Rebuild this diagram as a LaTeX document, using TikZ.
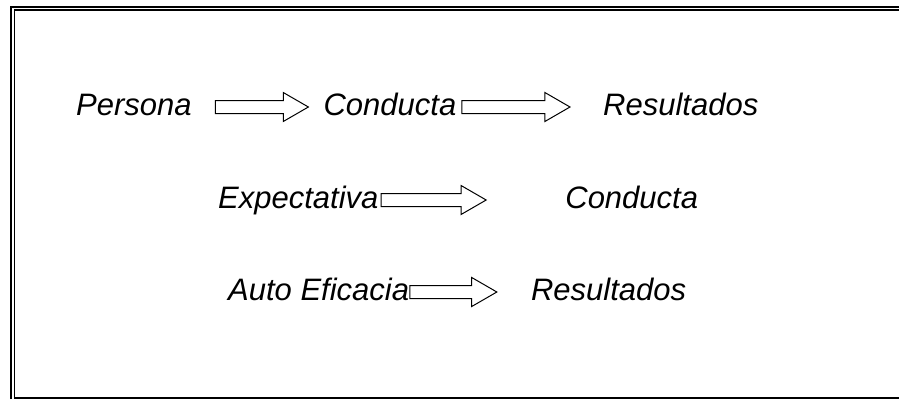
\documentclass[tikz,border=0pt]{standalone}
\usepackage{fontspec}
\setmainfont{Liberation Sans}
\usetikzlibrary{positioning,shapes.arrows}
\tikzset{
    %Define standard text and arrow
    palabra/.style={
      inner sep=0pt,
      text height=22pt,
      text depth=6pt,
      font=\fontsize{31}{37}\selectfont\itshape},
    flecha/.style={
      single arrow,
      draw=black, line width=1pt,
      fill=white,
      inner sep=0pt,
      text height=6pt,
      text depth=6pt,
      single arrow head extend=8pt,
      single arrow tip angle=60},
}
\begin{document}
\begin{tikzpicture}[x=1pt,y=-1pt]
    \useasboundingbox (0,0) rectangle (899,399);
    % marco
    \draw [line width=2pt] (11,399) -- (11,7) -- (899,7);
    \draw [line width=1.5pt] (14.3,398) -- (14.3,10.2) -- (899,10.2);
    \draw [line width=1.2pt] (14.3,398) -- (899,398);

    \node (persona) [palabra, anchor=base west] at (76,115)
          {Persona};
    \node (f1) [flecha, minimum height=93pt] [right=23pt of persona]
          {};
    \node (conducta1) [palabra] [right=14pt of f1]
          {Conducta};
    \node (f2) [flecha, minimum height=108pt] [right=5pt of conducta1]
          {};
    \node (resultados1) [palabra] [right=32pt of f2]
          {Resultados};

    \node (expectativa) [palabra, anchor=base west] at (218,208)
          {Expectativa};
    \node (f3) [flecha, minimum height=105pt] [right=2pt of expectativa]
          {};
    \node (conducta2) [palabra] [right=78pt of f3]
          {Conducta};

    \node (eficacia) [palabra, anchor=base west] at (228,300)
          {Auto Eficacia};
    \node (f4) [flecha, minimum height=87pt] [right=0pt of eficacia]
          {};
    \node (resultados2) [palabra] [right=33pt of f4]
          {Resultados};
\end{tikzpicture}
\end{document}
